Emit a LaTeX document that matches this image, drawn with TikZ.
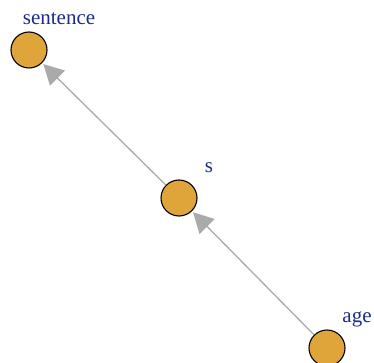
\documentclass[tikz,border=0pt]{standalone}
\usepackage{fontspec}
\setmainfont{Liberation Serif}
\usetikzlibrary{arrows.meta}
\definecolor{vfill}{HTML}{E0A53A}
\definecolor{vlab}{HTML}{1C2A8C}
\definecolor{edgegray}{HTML}{AAAAAA}
\begin{document}
\begin{tikzpicture}[x=1pt,y=-1pt,
  vert/.style={circle,draw=black,line width=1.1pt,fill=vfill,minimum size=36pt,inner sep=0pt},
  vlabel/.style={text=vlab,font=\fontsize{21}{21}\selectfont,inner sep=0pt,anchor=base},
  edge/.style={draw=edgegray,line width=1.3pt,shorten >=1.5pt,-{Triangle[length=20pt,width=21pt]}}]
\useasboundingbox (0,0) rectangle (374,363);
\node[vert] (sentence) at (29,50) {};
\node[vert] (s) at (179,198) {};
\node[vert] (age) at (327,348) {};
\node[vlabel] (lsentence) at (59,25) {sentence};
\node[vlabel] (ls) at (209,173) {s};
\node[vlabel] (lage) at (357,322) {age};
\draw[edge] (age) -- (s);
\draw[edge] (s) -- (sentence);
\end{tikzpicture}
\end{document}
